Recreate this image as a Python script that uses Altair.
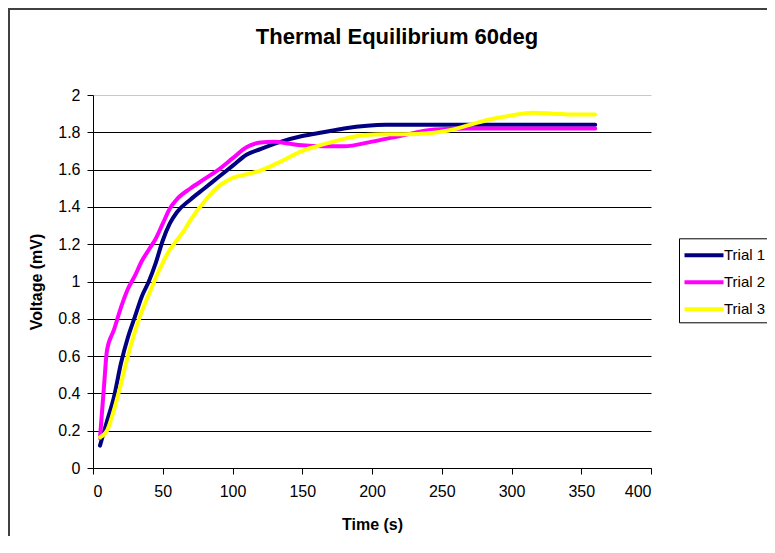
import altair as alt
import pandas as pd

# ---- data ----
series_names = ["Trial 1", "Trial 2", "Trial 3"]
series_colors = ["#000080", "#FF00FF", "#FFFF00"]

t1 = [5, 10, 15, 20, 25, 30, 35, 40, 45, 50, 55, 60, 70, 80, 90, 100, 110, 120,
      135, 150, 165, 180, 210, 240, 270, 300, 330, 360]
v1 = [0.12, 0.25, 0.38, 0.56, 0.70, 0.81, 0.92, 1.00, 1.10, 1.22, 1.31, 1.37, 1.44,
      1.50, 1.56, 1.62, 1.68, 1.71, 1.75, 1.78, 1.80, 1.82, 1.84, 1.84, 1.84, 1.84,
      1.84, 1.84]

t2 = [5, 8, 10, 15, 20, 25, 30, 35, 40, 45, 50, 55, 60, 70, 80, 90, 100, 110, 120,
      130, 140, 150, 165, 180, 200, 220, 245, 270, 300, 330, 360]
v2 = [0.16, 0.45, 0.63, 0.74, 0.86, 0.96, 1.03, 1.11, 1.17, 1.23, 1.31, 1.39, 1.44,
      1.50, 1.55, 1.60, 1.66, 1.72, 1.745, 1.75, 1.74, 1.73, 1.725, 1.725, 1.75,
      1.78, 1.815, 1.82, 1.82, 1.82, 1.82]

t3 = [5, 10, 15, 20, 25, 30, 35, 40, 45, 50, 55, 60, 65, 70, 80, 90, 100, 110, 120,
      135, 150, 165, 180, 195, 210, 225, 240, 255, 270, 285, 300, 315, 330, 345, 360]
v3 = [0.165, 0.20, 0.31, 0.45, 0.60, 0.73, 0.84, 0.93, 1.02, 1.10, 1.17, 1.22, 1.27,
      1.33, 1.43, 1.51, 1.555, 1.575, 1.595, 1.645, 1.70, 1.735, 1.765, 1.785, 1.79,
      1.79, 1.795, 1.81, 1.84, 1.87, 1.89, 1.905, 1.90, 1.895, 1.895]

x_ticks = [0, 50, 100, 150, 200, 250, 300, 350, 400]
y_ticks = [0, 0.2, 0.4, 0.6, 0.8, 1, 1.2, 1.4, 1.6, 1.8, 2]

rows = []
for name, ts, vs in zip(series_names, [t1, t2, t3], [v1, v2, v3]):
    for i, (t, v) in enumerate(zip(ts, vs)):
        rows.append({"Trial": name, "Time": t, "Voltage": v, "idx": i})
df = pd.DataFrame(rows)

W, H = 558, 373
PAD = {"left": 85, "top": 87, "right": 116, "bottom": 68}
FONT = "Liberation Sans"

lines = alt.Chart(df).mark_line(
    strokeWidth=4, interpolate="monotone", strokeCap="round", strokeJoin="round"
).encode(
    x=alt.X("Time:Q",
            scale=alt.Scale(domain=[0, 400], nice=False, zero=False),
            axis=alt.Axis(values=x_ticks, title="Time (s)", grid=False,
                          format="d", labelPadding=9, tickSize=6,
                          titleX=W / 2, titleY=48)),
    y=alt.Y("Voltage:Q",
            scale=alt.Scale(domain=[0, 2], nice=False),
            axis=alt.Axis(values=y_ticks, title="Voltage (mV)", grid=True,
                          format="~g", labelPadding=7, tickSize=6,
                          gridColor={"condition": {"test": "datum.value >= 2", "value": "#c8c8c8"},
                                     "value": "#000000"},
                          titleX=-49, titleY=H / 2, titleAngle=270, titleBaseline="bottom")),
    color=alt.Color("Trial:N",
                    scale=alt.Scale(domain=series_names, range=series_colors),
                    legend=alt.Legend(title=None, orient="none", legendX=586, legendY=143.3,
                                      direction="vertical", symbolType="M-2,0H2",
                                      symbolSize=380, symbolStrokeWidth=4,
                                      symbolOffset=8, labelOffset=8,
                                      labelFont=FONT, labelFontSize=15, labelColor="black",
                                      strokeColor="black", fillColor="white",
                                      padding=5, rowPadding=7, cornerRadius=0)),
    order="idx:Q",
)

border = alt.Chart(pd.DataFrame({"k": [0]})).mark_rect(
    fillOpacity=0, stroke="#404040", strokeWidth=2, clip=False
).encode(
    x=alt.value(-PAD["left"] + 1),
    y=alt.value(-PAD["top"] + 1),
    x2=alt.value(W + PAD["right"] + 20),
    y2=alt.value(H + PAD["bottom"] + 20),
)

chart = alt.layer(border, lines).properties(
    width=W, height=H,
    padding=PAD,
    background="white",
    autosize=alt.AutoSizeParams(type="none"),
    title=alt.Title("Thermal Equilibrium 60deg", font=FONT, fontSize=22,
                    fontWeight="bold", color="black", anchor="middle",
                    baseline="alphabetic",
                    frame="group", dx=25, offset=-58),
).configure_view(strokeWidth=0).configure_axis(
    domainColor="black", tickColor="black", labelColor="black",
    labelFont=FONT, labelFontSize=16, titleFont=FONT, titleFontSize=16,
    titleFontWeight="bold", titleColor="black", gridWidth=1, domainWidth=1,
    tickWidth=1,
)

chart.save("out.html", embed_options={"renderer": "svg", "actions": False})
